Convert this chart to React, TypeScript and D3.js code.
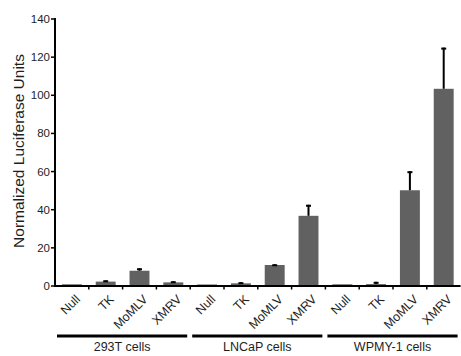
import * as d3 from "d3";

const groups = ["293T cells", "LNCaP cells", "WPMY-1 cells"];
const constructs = ["Null", "TK", "MoMLV", "XMRV"];
// mean luciferase per group, in construct order
const means = [
  [0.9, 2.3, 8.0, 1.9],
  [0.8, 1.4, 11.0, 36.8],
  [0.9, 1.0, 50.2, 103.4],
];
// upper error (SD) per group
const errors = [
  [0, 0.7, 1.3, 0.6],
  [0, 0.6, 0.4, 5.8],
  [0, 1.2, 10.0, 21.6],
];
const yTicks = [0, 20, 40, 60, 80, 100, 120, 140];

const W = 461;
const H = 356;
const left = 55;
const right = 460.6;
const y0 = 286;
const yTop = 19;
const font = "Liberation Sans, Arial, sans-serif";
const ink = "#1e1e1e";

type Row = { key: string; group: number; label: string; mean: number; err: number };

const rows: Row[] = [];
groups.forEach((g, gi) =>
  constructs.forEach((c, ci) =>
    rows.push({ key: `${gi}-${c}`, group: gi, label: c, mean: means[gi][ci], err: errors[gi][ci] })
  )
);

export default function App() {
  const keys = rows.map((r) => r.key);
  const step = d3.scaleBand<string>().domain(keys).range([left, right]).padding(0);
  const x = d3
    .scaleBand<string>()
    .domain(keys)
    .range([left, right])
    .paddingInner(0.41)
    .paddingOuter(0.205);
  const y = d3.scaleLinear().domain([0, 140]).range([y0, yTop]);

  return (
    <svg
      width={W}
      height={H}
      style={{ position: "absolute", left: 0, top: 0, background: "#fff" }}
      fontFamily={font}
    >
      {/* bars */}
      {rows.map((r) => (
        <rect
          key={r.key}
          x={x(r.key)}
          y={y(r.mean)}
          width={x.bandwidth()}
          height={y(0) - y(r.mean)}
          fill="#616161"
        />
      ))}
      {/* error bars */}
      {rows
        .filter((r) => r.err > 0)
        .map((r) => {
          const cx = (x(r.key) ?? 0) + x.bandwidth() / 2;
          return (
            <g key={"e" + r.key} stroke="#000">
              <line x1={cx} x2={cx} y1={y(r.mean)} y2={y(r.mean + r.err)} strokeWidth={2} />
              <line x1={cx - 2.5} x2={cx + 2.5} y1={y(r.mean + r.err) + 1} y2={y(r.mean + r.err) + 1} strokeWidth={2} />
            </g>
          );
        })}
      {/* y axis */}
      <line x1={left} x2={left} y1={yTop - 1} y2={y0 + 1} stroke="#000" strokeWidth={2} />
      {yTicks.map((t) => (
        <g key={t}>
          <line x1={left - 4} x2={left} y1={y(t)} y2={y(t)} stroke="#000" strokeWidth={1.5} />
          <text x={left - 5} y={y(t)} dy="0.35em" textAnchor="end" fontSize={11.5} fill={ink}>
            {t}
          </text>
        </g>
      ))}
      <text transform="translate(24,151) rotate(-90)" textAnchor="middle" fontSize={15.5} fill={ink}>
        Normalized Luciferase Units
      </text>
      {/* x axis */}
      <line x1={left - 1} x2={right} y1={y0} y2={y0} stroke="#000" strokeWidth={2} />
      {keys.slice(1).map((k) => (
        <line key={"t" + k} x1={step(k)} x2={step(k)} y1={y0} y2={y0 + 3.5} stroke="#000" strokeWidth={1.5} />
      ))}
      {rows.map((r) => {
        const cx = (x(r.key) ?? 0) + x.bandwidth() / 2;
        return (
          <text
            key={"l" + r.key}
            transform={`translate(${cx + 9},${y0 + 14}) rotate(-45)`}
            textAnchor="end"
            fontSize={12.5}
            fill={ink}
          >
            {r.label}
          </text>
        );
      })}
      {/* group brackets */}
      {groups.map((g, gi) => {
        const k0 = keys[gi * 4];
        const k1 = keys[gi * 4 + 3];
        const a = (step(k0) ?? 0) + 2;
        const b = (step(k1) ?? 0) + step.bandwidth() - 3;
        return (
          <g key={g}>
            <line x1={a} x2={b} y1={336} y2={336} stroke="#000" strokeWidth={3} />
            <text x={(a + b) / 2} y={351} textAnchor="middle" fontSize={12.5} fill={ink}>
              {g}
            </text>
          </g>
        );
      })}
    </svg>
  );
}
